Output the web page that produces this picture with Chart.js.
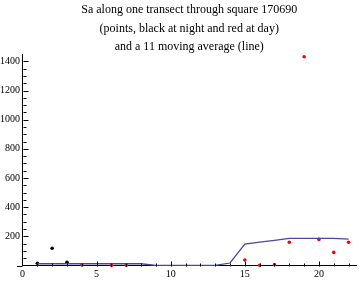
<!DOCTYPE html>
<html lang="en">
<head>
    <meta charset="UTF-8">
    <title>Sa along one transect</title>
    <script src="https://cdn.jsdelivr.net/npm/chart.js@4.4.1/dist/chart.umd.min.js"></script>
    <style>
        html, body { margin: 0; padding: 0; background: #fff; }
        #wrap { width: 360px; height: 282px; position: relative; }
    </style>
</head>
<body>
    <div id="wrap"><canvas id="chart"></canvas></div>

    <script>
        // Title lines
        const titleLines = [
            'Sa along one transect through square 170690',
            '(points, black at night and red at day)',
            'and a 11 moving average (line)'
        ];

        // Night samples (black points)
        const nightPos = [1, 2, 3];
        const nightSa = [15, 118, 22];

        // Day samples (red points)
        const dayPos = [4, 6, 7, 15, 16, 17, 18, 19, 20, 21, 22];
        const daySa = [3, 1, 1, 38, 2, 6, 159, 1432, 179, 90, 159];

        // 11 point moving average (line)
        const avgPos = [1, 2, 3, 4, 5, 6, 7, 8, 9, 10, 11, 12, 13, 14, 15, 16, 17, 18, 19, 20, 21, 22];
        const avgSa = [12, 12, 12, 12, 12, 12, 12, 12, 1, 1, 1, 1, 1, 17, 147, 160, 173, 186, 186, 186, 186, 181];

        // Tick labels
        const xTickLabels = [0, 5, 10, 15, 20];
        const yTickLabels = [200, 400, 600, 800, 1000, 1200, 1400];

        const toPoints = (xs, ys) => xs.map((x, i) => ({ x: x, y: ys[i] }));

        // Mathematica style ticks pointing into the plot
        const innerTicks = {
            id: 'innerTicks',
            afterDraw(chart) {
                const { ctx, chartArea, scales } = chart;
                const xs = scales.x, ys = scales.y;
                ctx.save();
                ctx.strokeStyle = '#000';
                ctx.lineWidth = 1;
                ctx.beginPath();
                // x axis runs a bit left of the y axis
                const y0 = Math.round(chartArea.bottom) + 0.5;
                ctx.moveTo(xs.getPixelForValue(-0.37), y0);
                ctx.lineTo(chartArea.left, y0);
                for (let v = 1; v <= 22; v++) {
                    const px = Math.round(xs.getPixelForValue(v)) + 0.5;
                    const len = v % 5 === 0 ? 5 : 3;
                    ctx.moveTo(px, y0);
                    ctx.lineTo(px, y0 - len);
                }
                const x0 = Math.round(chartArea.left) + 0.5;
                for (let v = 50; v <= 1400; v += 50) {
                    const py = Math.round(ys.getPixelForValue(v)) + 0.5;
                    const len = v % 200 === 0 ? 5 : 3;
                    ctx.moveTo(x0, py);
                    ctx.lineTo(x0 + len, py);
                }
                ctx.stroke();
                ctx.restore();
            }
        };

        const tickFont = { family: 'Liberation Serif', size: 10 };

        new Chart(document.getElementById('chart'), {
            type: 'scatter',
            data: {
                datasets: [
                    {
                        label: 'moving average',
                        type: 'line',
                        data: toPoints(avgPos, avgSa),
                        borderColor: 'rgb(72, 72, 158)',
                        borderWidth: 1.3,
                        pointRadius: 0,
                        fill: false,
                        tension: 0,
                        clip: false
                    },
                    {
                        label: 'night',
                        data: toPoints(nightPos, nightSa),
                        backgroundColor: '#000',
                        borderWidth: 0,
                        pointRadius: 1.8,
                        clip: false
                    },
                    {
                        label: 'day',
                        data: toPoints(dayPos, daySa),
                        backgroundColor: '#ff0000',
                        borderWidth: 0,
                        pointRadius: 1.8,
                        clip: false
                    }
                ]
            },
            options: {
                responsive: true,
                maintainAspectRatio: false,
                animation: false,
                layout: { padding: { top: 0.5, left: 0, right: 0, bottom: 0 } },
                plugins: {
                    legend: { display: false },
                    tooltip: { enabled: false },
                    title: {
                        display: true,
                        fullSize: false,
                        text: titleLines,
                        color: '#000',
                        font: { family: 'Liberation Serif', size: 12, weight: 'normal', lineHeight: 1.56 },
                        padding: { top: 0, bottom: -2.6 }
                    }
                },
                scales: {
                    x: {
                        type: 'linear',
                        min: 0,
                        max: 22.5,
                        grid: { display: false, drawTicks: false },
                        border: { display: true, color: '#000', width: 1 },
                        ticks: {
                            color: '#000',
                            font: tickFont,
                            padding: 3,
                            maxRotation: 0,
                            autoSkip: false,
                            includeBounds: false,
                            callback: (v) => String(v)
                        },
                        afterBuildTicks: (s) => { s.ticks = xTickLabels.map((v) => ({ value: v })); },
                        afterFit: (s) => { s.height = 16.5; }
                    },
                    y: {
                        type: 'linear',
                        min: 0,
                        max: 1450,
                        grid: { display: false, drawTicks: false },
                        border: { display: true, color: '#000', width: 1 },
                        ticks: {
                            color: '#000',
                            font: tickFont,
                            padding: 2.5,
                            autoSkip: false,
                            includeBounds: false,
                            callback: (v) => String(v)
                        },
                        afterBuildTicks: (s) => { s.ticks = yTickLabels.map((v) => ({ value: v })); },
                        afterFit: (s) => { s.width = 22.5; }
                    }
                }
            },
            plugins: [innerTicks]
        });
    </script>
</body>
</html>
